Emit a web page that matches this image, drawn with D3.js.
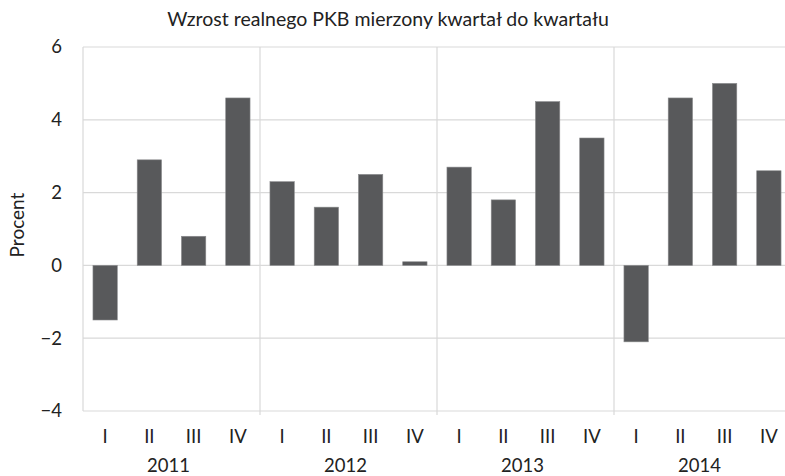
<!DOCTYPE html>
<html><head><meta charset="utf-8">
<script src="https://cdn.jsdelivr.net/npm/d3@7"></script>
<style>body{margin:0;background:#fff;} svg{display:block;font-family:Lato,"Open Sans",sans-serif;}</style>
</head><body>
<svg id="c" width="785" height="476"></svg>
<script>
const years = ["2011","2012","2013","2014"];
const quarters = ["I","II","III","IV"];
const values2011 = [-1.5, 2.9, 0.8, 4.6];
const values2012 = [2.3, 1.6, 2.5, 0.1];
const values2013 = [2.7, 1.8, 4.5, 3.5];
const values2014 = [-2.1, 4.6, 5.0, 2.6];
const yTicks = [-4, -2, 0, 2, 4, 6];
const title = "Wzrost realnego PKB mierzony kwartał do kwartału";
const yLabel = "Procent";

const series = [values2011, values2012, values2013, values2014];
const data = [];
years.forEach((y, i) => quarters.forEach((q, j) => data.push({year: y, q: q, key: y + "-" + q, v: series[i][j]})));

const svg = d3.select("#c");
const L = 83, R = 791, T = 47, B = 411;
const x = d3.scaleBand().domain(data.map(d => d.key)).range([L, R]).paddingInner(0.45).paddingOuter(0.225);
const xYear = d3.scaleBand().domain(years).range([L, R]);
const y = d3.scaleLinear().domain([-4, 6]).range([B, T]);
const grid = "#d9d9d9";

// gridlines
svg.append("g").selectAll("line").data(yTicks).join("line")
  .attr("x1", L).attr("x2", R).attr("y1", d => y(d)).attr("y2", d => y(d))
  .attr("stroke", grid).attr("stroke-width", 1.2);

// left axis line
svg.append("line").attr("x1", L).attr("x2", L).attr("y1", T).attr("y2", B)
  .attr("stroke", grid).attr("stroke-width", 1.2);

// year separators
svg.append("g").selectAll("line").data(years.slice(1)).join("line")
  .attr("x1", d => xYear(d)).attr("x2", d => xYear(d)).attr("y1", T).attr("y2", B + 4)
  .attr("stroke", grid).attr("stroke-width", 1.2);

// bars
svg.append("g").selectAll("rect").data(data).join("rect")
  .attr("x", d => x(d.key)).attr("width", x.bandwidth())
  .attr("y", d => y(Math.max(0, d.v))).attr("height", d => Math.abs(y(d.v) - y(0)))
  .attr("fill", "#58595b").attr("stroke", "#8a8b8d").attr("stroke-width", 0.6);

// y tick labels
svg.append("g").selectAll("text").data(yTicks).join("text")
  .attr("x", 62).attr("y", d => y(d)).attr("dy", "0.35em").attr("text-anchor", "end")
  .attr("font-size", 18.5).attr("fill", "#222")
  .text(d => d < 0 ? "\u2212" + Math.abs(d) : d);

// quarter labels
svg.append("g").selectAll("text").data(data).join("text")
  .attr("x", d => x(d.key) + x.bandwidth() / 2).attr("y", 443).attr("text-anchor", "middle")
  .attr("font-size", 18.5).attr("fill", "#222").text(d => d.q);

// year labels
svg.append("g").selectAll("text").data(years).join("text")
  .attr("x", d => xYear(d) + xYear.bandwidth() / 2 - 3).attr("y", 472).attr("text-anchor", "middle")
  .attr("font-size", 18.5).attr("fill", "#222").text(d => d);

// y label
svg.append("text").attr("transform", "translate(24,225) rotate(-90)").attr("text-anchor", "middle")
  .attr("font-size", 19).attr("fill", "#222").text(yLabel);

// title
svg.append("text").attr("x", 388).attr("y", 26).attr("text-anchor", "middle")
  .attr("font-size", 19.5).attr("fill", "#222").text(title);
</script>
</body></html>
